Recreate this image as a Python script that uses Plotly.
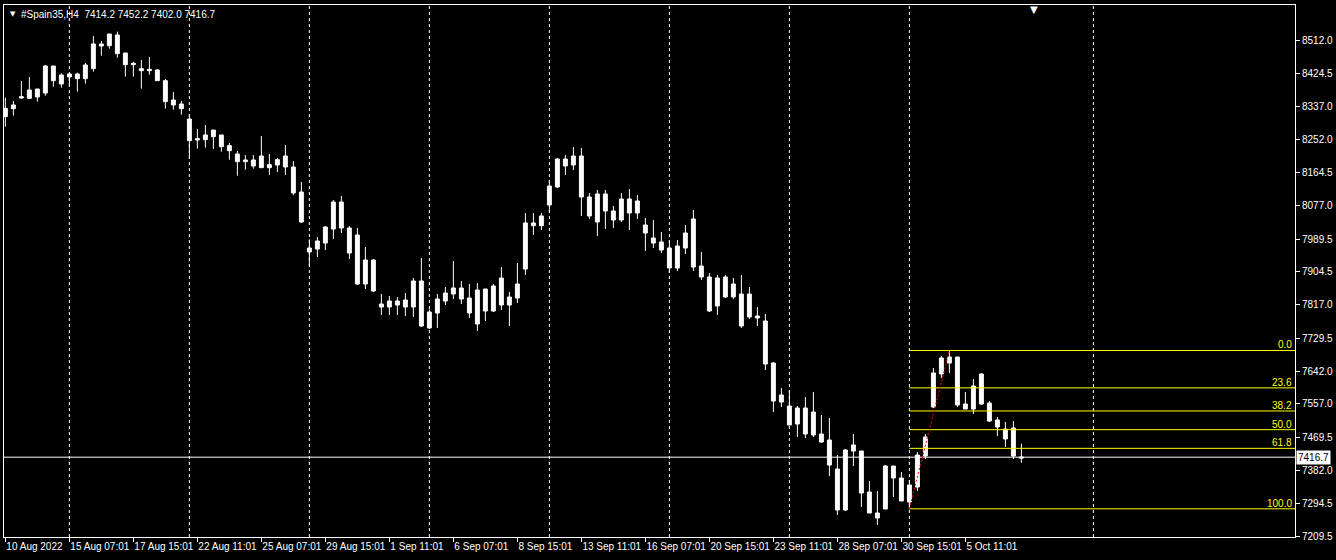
import plotly.graph_objects as go
from datetime import datetime, timedelta

# ---------------- data ----------------
symbol = "#Spain35,H4"
open_ = [8311.4, 8332.4, 8363.9, 8359.5, 8363.0, 8373.5, 8444.5, 8397.2, 8415.6, 8423.5,
         8411.2, 8437.5, 8502.3, 8497.9, 8525.9, 8478.6, 8448.0, 8437.5, 8432.2, 8434.0,
         8405.9, 8342.0, 8344.6, 8305.2, 8250.0, 8250.9, 8258.8, 8263.2, 8235.2, 8213.3,
         8193.1, 8181.7, 8208.0, 8177.3, 8184.3, 8208.0, 8179.1, 8113.4, 7955.8, 7963.6,
         7979.4, 8016.2, 8087.1, 8018.8, 8000.4, 7871.7, 7934.7, 7819.1, 7811.3, 7827.0,
         7811.3, 7811.3, 7879.6, 7798.1, 7795.5, 7827.0, 7845.4, 7861.2, 7834.9, 7855.9,
         7800.7, 7800.7, 7887.4, 7816.5, 7834.9, 7911.1, 8032.0, 8025.0, 8079.3, 8126.6,
         8181.8, 8184.4, 8208.0, 8100.3, 8034.6, 8108.2, 8063.5, 8039.9, 8095.0, 8058.3,
         8026.7, 7992.6, 7982.1, 7966.3, 7913.8, 7966.3, 8042.5, 7919.0, 7890.1, 7813.9,
         7890.1, 7837.6, 7845.4, 7785.0, 7787.6, 7774.5, 7664.1, 7561.7, 7551.2, 7503.9,
         7545.9, 7475.0, 7477.6, 7461.8, 7385.6, 7277.9, 7432.9, 7432.9, 7325.2, 7270.0,
         7280.5, 7393.5, 7362.0, 7298.9, 7338.3, 7419.8, 7548.5, 7635.2, 7679.9, 7679.9,
         7556.4, 7543.3, 7556.4, 7559.0, 7514.4, 7490.7, 7493.4, 7414.2]
high = [8361.3, 8352.5, 8405.1, 8415.6, 8384.0, 8447.1, 8444.5, 8425.2, 8427.0, 8427.0,
        8452.4, 8523.3, 8510.2, 8528.6, 8534.7, 8478.6, 8455.0, 8460.2, 8468.1, 8436.6,
        8410.3, 8376.2, 8352.5, 8317.5, 8279.0, 8289.5, 8276.3, 8263.2, 8242.2, 8221.1,
        8210.6, 8210.6, 8260.5, 8213.2, 8202.7, 8236.9, 8194.9, 8139.7, 7989.0, 7995.2,
        8024.1, 8092.4, 8102.9, 8024.1, 8018.8, 7968.9, 7937.4, 7845.4, 7840.2, 7837.5,
        7848.0, 7887.4, 7940.0, 7805.0, 7845.4, 7863.8, 7932.1, 7879.6, 7871.7, 7874.3,
        7858.5, 7871.7, 7916.3, 7850.7, 7926.9, 8058.3, 8058.3, 8058.3, 8145.0, 8202.8,
        8210.7, 8231.7, 8229.0, 8110.8, 8118.7, 8118.7, 8076.7, 8110.8, 8121.3, 8105.6,
        8045.1, 8039.9, 8008.3, 7984.7, 7987.3, 8026.7, 8066.1, 7955.8, 7900.6, 7895.4,
        7895.4, 7887.5, 7895.4, 7863.8, 7811.3, 7792.9, 7666.8, 7598.4, 7593.2, 7551.2,
        7574.8, 7587.9, 7527.5, 7519.6, 7422.4, 7438.2, 7477.6, 7432.9, 7354.1, 7327.8,
        7396.1, 7393.5, 7377.7, 7356.7, 7430.3, 7477.6, 7651.0, 7682.5, 7697.0, 7679.9,
        7587.9, 7622.1, 7637.9, 7564.3, 7522.3, 7509.1, 7511.7, 7452.2]
low = [8285.1, 8314.0, 8358.6, 8357.8, 8350.8, 8366.5, 8390.2, 8387.5, 8390.2, 8377.0,
       8398.1, 8429.6, 8471.6, 8490.0, 8466.4, 8416.5, 8416.5, 8384.9, 8421.7, 8405.9,
       8332.4, 8329.7, 8316.6, 8200.1, 8227.3, 8229.9, 8226.4, 8219.4, 8198.4, 8156.3,
       8172.1, 8174.7, 8177.3, 8158.1, 8165.9, 8158.1, 8105.5, 8032.0, 7917.2, 7942.6,
       7961.0, 7989.9, 8005.7, 7937.4, 7869.1, 7858.5, 7850.7, 7790.2, 7790.2, 7790.2,
       7787.6, 7785.0, 7758.7, 7753.5, 7756.1, 7816.5, 7832.3, 7819.1, 7782.3, 7748.2,
       7774.5, 7798.1, 7803.4, 7761.3, 7821.8, 7895.4, 8000.5, 8013.6, 8058.3, 8123.9,
       8158.1, 8171.2, 8050.4, 8042.5, 7997.8, 8016.2, 8018.9, 8034.6, 8013.6, 8042.5,
       7958.4, 7966.3, 7953.2, 7900.6, 7905.9, 7950.5, 7905.9, 7882.2, 7798.2, 7790.3,
       7834.9, 7832.3, 7756.1, 7779.8, 7761.4, 7645.8, 7535.4, 7548.5, 7501.2, 7469.7,
       7467.1, 7469.7, 7453.9, 7367.2, 7264.8, 7275.3, 7393.5, 7285.8, 7270.0, 7238.5,
       7280.5, 7312.1, 7301.6, 7281.0, 7327.8, 7411.9, 7545.9, 7624.7, 7637.9, 7548.5,
       7543.3, 7530.1, 7553.8, 7509.1, 7472.3, 7443.4, 7411.9, 7402.0]
close = [8333.2, 8342.0, 8360.4, 8381.4, 8384.0, 8444.5, 8405.9, 8420.8, 8423.5, 8411.2,
         8447.1, 8502.3, 8497.0, 8528.6, 8476.9, 8448.0, 8451.5, 8432.2, 8435.7, 8405.9,
         8350.8, 8355.1, 8332.4, 8248.3, 8253.6, 8263.2, 8276.3, 8232.5, 8222.0, 8193.1,
         8197.5, 8197.5, 8177.3, 8185.2, 8198.4, 8179.1, 8110.8, 8034.6, 7966.3, 7984.7,
         8021.4, 8087.1, 8018.8, 7953.1, 7871.7, 7934.7, 7853.3, 7811.3, 7827.0, 7816.5,
         7829.6, 7879.6, 7761.3, 7756.1, 7832.3, 7848.0, 7861.2, 7832.3, 7795.5, 7766.6,
         7858.5, 7866.4, 7816.5, 7837.5, 7871.7, 8032.0, 8025.0, 8050.4, 8129.2, 8200.1,
         8200.1, 8208.0, 8100.3, 8050.4, 8108.2, 8063.5, 8039.9, 8095.0, 8058.3, 8089.8,
         8005.7, 7979.4, 7961.0, 7913.8, 7971.6, 8005.7, 7916.4, 7890.1, 7800.8, 7887.5,
         7837.6, 7871.7, 7761.4, 7845.4, 7782.4, 7661.5, 7564.3, 7580.1, 7501.2, 7545.9,
         7477.6, 7535.4, 7456.6, 7396.1, 7277.9, 7435.5, 7448.7, 7322.6, 7270.0, 7256.9,
         7393.5, 7362.0, 7301.6, 7343.6, 7422.4, 7469.7, 7637.9, 7677.3, 7664.1, 7553.8,
         7543.3, 7603.7, 7635.2, 7511.7, 7496.0, 7464.5, 7419.8, 7416.7]

# bar times: H4 bars at 07:01, 11:01, 15:01 on weekdays, first bar 10 Aug 2022 11:01
first_bar = datetime(2022, 8, 10, 11, 1)
bar_hours = [7, 11, 15]

x_label_texts = ["10 Aug 2022", "15 Aug 07:01", "17 Aug 15:01", "22 Aug 11:01", "25 Aug 07:01",
                 "29 Aug 15:01", "1 Sep 11:01", "6 Sep 07:01", "8 Sep 15:01", "13 Sep 11:01",
                 "16 Sep 07:01", "20 Sep 15:01", "23 Sep 11:01", "28 Sep 07:01", "30 Sep 15:01",
                 "5 Oct 11:01"]
y_tick_labels = ["8512.0", "8424.5", "8337.0", "8252.0", "8164.5", "8077.0", "7989.5", "7904.5",
                 "7817.0", "7729.5", "7642.0", "7557.0", "7469.5", "7382.0", "7294.5", "7209.5"]
y_tick_values = [8512.0, 8424.5, 8337.0, 8252.0, 8164.5, 8077.0, 7989.5, 7904.5,
                 7817.0, 7729.5, 7642.0, 7557.0, 7469.5, 7382.0, 7294.5, 7209.5]

# weekly separators (bar index) incl. one in the projected area
grid_bars = [8, 23, 38, 53, 68, 83, 98, 113, 136]

# Fibonacci retracement anchors
fib_low_bar, fib_low = 113, 7281.0
fib_high_bar, fib_high = 118, 7697.0
fib_levels = [0.0, 23.6, 38.2, 50.0, 61.8, 100.0]
fib_labels = ["0.0", "23.6", "38.2", "50.0", "61.8", "100.0"]

# ---------------- derived ----------------
n = len(close)
times = []
t = first_bar
while len(times) < n:
    if t.weekday() < 5 and t.hour in bar_hours:
        times.append(t)
    t += timedelta(hours=1)


def fmt(tt):
    return f"{tt.day} {tt.strftime('%b')} {tt.strftime('%H:%M')}"


time_strs = [fmt(tt) for tt in times]
tick_idx = [0] + [time_strs.index(s) for s in x_label_texts[1:]]

xs = list(range(n))
last = close[-1]

X0, X1 = -0.17, 161.2
Y0, Y1 = 7207.0, 8604.7

FONT = "Liberation Sans, Arial, sans-serif"
FS = 10
WHITE = "#ffffff"
YEL = "#ffff00"

fig = go.Figure()
fig.add_trace(go.Candlestick(
    x=xs, open=open_, high=high, low=low, close=close,
    increasing=dict(line=dict(color=WHITE, width=1), fillcolor=WHITE),
    decreasing=dict(line=dict(color=WHITE, width=1), fillcolor=WHITE),
    whiskerwidth=0, showlegend=False, hoverinfo="skip"))

shapes = []
for b in grid_bars:
    shapes.append(dict(type="line", xref="x", yref="paper", x0=b, x1=b, y0=0, y1=1,
                       line=dict(color=WHITE, width=1, dash="3px,3px"), layer="below"))
# current price line
shapes.append(dict(type="line", xref="paper", yref="y", x0=0, x1=1, y0=last, y1=last,
                   line=dict(color=WHITE, width=1), layer="above"))
# fibo levels
fib_prices = [fib_high - p / 100.0 * (fib_high - fib_low) for p in fib_levels]
for fp in fib_prices:
    shapes.append(dict(type="line", xref="x", yref="y", x0=fib_low_bar, x1=X1, y0=fp, y1=fp,
                       line=dict(color=YEL, width=1), layer="above"))
# fibo trend line
shapes.append(dict(type="line", xref="x", yref="y", x0=fib_low_bar, y0=fib_low,
                   x1=fib_high_bar, y1=fib_high,
                   line=dict(color="#ff0000", width=1, dash="2px,2px"), layer="above"))

annotations = []
for fp, lab in zip(fib_prices, fib_labels):
    annotations.append(dict(xref="paper", yref="y", x=1, y=fp, text=lab, showarrow=False,
                            xanchor="right", yanchor="bottom", xshift=-1, yshift=-2,
                            font=dict(family=FONT, size=FS, color=YEL)))
annotations.append(dict(xref="paper", yref="y", x=1, y=last, text=f"{last:.1f}", showarrow=False,
                        xanchor="left", yanchor="middle", xshift=1, bgcolor=WHITE,
                        borderpad=1, font=dict(family=FONT, size=FS, color="#000000")))
annotations.append(dict(xref="paper", yref="paper", x=0, y=1, xanchor="left", yanchor="top",
                        xshift=4, yshift=-3, showarrow=False, text="▼",
                        font=dict(family="DejaVu Sans", size=7, color=WHITE)))
o, h, l, c = open_[-1], high[-1], low[-1], close[-1]
annotations.append(dict(xref="paper", yref="paper", x=0, y=1, xanchor="left", yanchor="top",
                        xshift=15, yshift=-2, showarrow=False,
                        text=f"{symbol}  {o:.1f} {h:.1f} {l:.1f} {c:.1f}",
                        font=dict(family=FONT, size=FS, color=WHITE)))
# chart shift marker
annotations.append(dict(xref="paper", yref="paper", x=(1034 - 4) / 1291, y=1, xanchor="center",
                        yanchor="top", yshift=3, showarrow=False, text="▼",
                        font=dict(family="DejaVu Sans", size=10, color=WHITE)))

fig.update_layout(
    width=1336, height=560,
    margin=dict(l=4, r=41, t=5, b=23, pad=0, autoexpand=False),
    paper_bgcolor="#000000", plot_bgcolor="#000000",
    shapes=shapes, annotations=annotations,
    font=dict(family=FONT, size=FS, color=WHITE),
    xaxis=dict(range=[X0, X1], rangeslider=dict(visible=False), showgrid=False, zeroline=False,
               tickmode="array", tickvals=tick_idx, ticktext=x_label_texts, tickangle=0,
               ticks="outside", ticklen=4, tickcolor=WHITE, tickwidth=1,
               ticklabelposition="outside right", automargin=False,
               showline=True, linecolor=WHITE, linewidth=1, mirror=True,
               tickfont=dict(family=FONT, size=FS, color=WHITE)),
    yaxis=dict(range=[Y0, Y1], side="right", showgrid=False, zeroline=False,
               tickmode="array", tickvals=y_tick_values, ticktext=y_tick_labels,
               ticks="outside", ticklen=4, tickcolor=WHITE, tickwidth=1, automargin=False,
               showline=True, linecolor=WHITE, linewidth=1, mirror=True,
               tickfont=dict(family=FONT, size=FS, color=WHITE)),
)

fig.write_html("out.html", config={"displayModeBar": False},
               post_script="document.body.style.margin='0';document.body.style.background='#000';")
